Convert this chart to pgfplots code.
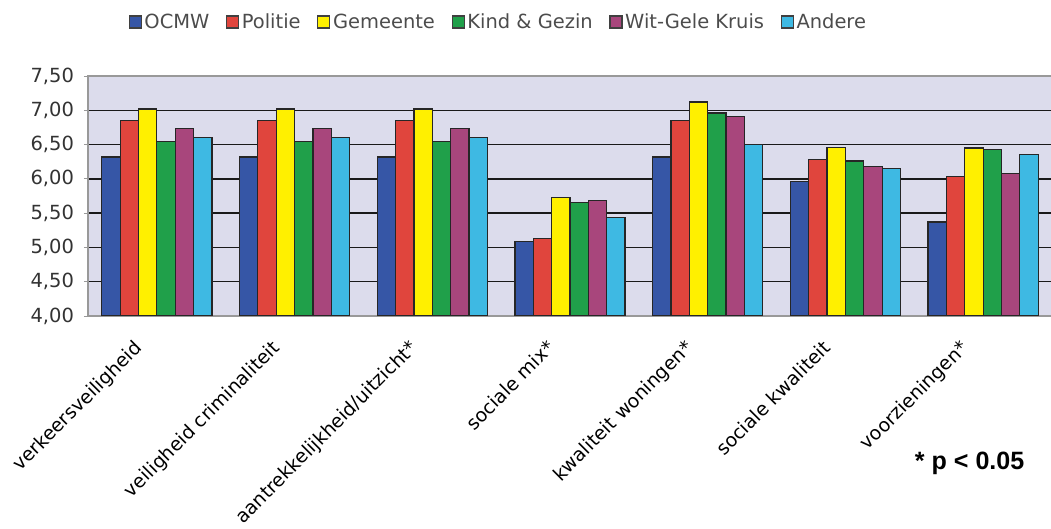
\documentclass[border=0pt]{standalone}
\usepackage{pgfplots}
\pgfplotsset{compat=1.18}
\usepackage{pgfplotstable}
\usepackage{fontspec}
\setmainfont{DejaVu Sans}
\newfontfamily\notefont{Liberation Sans}

\definecolor{cOCMW}{HTML}{3656A6}
\definecolor{cPolitie}{HTML}{E0453D}
\definecolor{cGemeente}{HTML}{FFF000}
\definecolor{cKind}{HTML}{20A04A}
\definecolor{cWit}{HTML}{A8467C}
\definecolor{cAndere}{HTML}{3EB9E3}
\definecolor{plotbg}{HTML}{DCDCEC}

% mean scores per domain (0..6 = domains)
\pgfplotstableread{
x OCMW Politie Gemeente Kind Wit Andere
0 6.32 6.85 7.02 6.54 6.74 6.60
1 6.32 6.85 7.02 6.54 6.74 6.60
2 6.32 6.85 7.02 6.54 6.74 6.60
3 5.09 5.13 5.73 5.65 5.69 5.44
4 6.32 6.85 7.12 6.96 6.91 6.50
5 5.96 6.28 6.46 6.26 6.18 6.15
6 5.37 6.03 6.45 6.43 6.08 6.35
}\scores

\begin{document}
\begin{tikzpicture}
\useasboundingbox (0,0) rectangle (788.25pt,396.75pt);
\begin{axis}[
  at={(66pt,159.75pt)}, anchor=south west,
  scale only axis,
  width=723pt, height=180pt,
  xmin=-0.5, xmax=6.5,
  ymin=4, ymax=7.5,
  axis background/.style={fill=plotbg},
  axis line style={draw=black!40, line width=0.9pt},
  ybar=0pt, bar width=0.1333,
  xtick={0,...,6},
  xticklabels={verkeersveiligheid, veiligheid criminaliteit, aantrekkelijkheid/uitzicht*, sociale mix*, kwaliteit woningen*, sociale kwaliteit, voorzieningen*},
  x tick label style={font=\fontsize{14.2pt}{16pt}\selectfont, inner sep=0pt, xshift=-18pt, yshift=-14pt, rotate=45, anchor=north east},
  major x tick style={draw=none},
  extra x ticks={0.5,1.5,...,5.5},
  extra x tick labels={},
  extra x tick style={tick style={draw=black!40, line width=0.6pt}, major tick length=4pt, tick align=outside, grid=none},
  ytick={4.5,5,...,7},
  extra y ticks={4,7.5},
  extra y tick style={grid=none},
  ymajorgrids,
  major grid style={draw=black!90, line width=1.1pt},
  y tick style={draw=black!40, line width=0.6pt},
  tick align=outside, major tick length=3pt,
  y tick label style={font=\fontsize{14.6pt}{16pt}\selectfont, text=black!80, xshift=-4pt},
  y tick label style={/pgf/number format/fixed, /pgf/number format/fixed zerofill, /pgf/number format/precision=2, /pgf/number format/use comma, /pgf/number format/assume math mode=true},
  legend columns=-1,
  legend style={draw=none, fill=none, at={(0.042,1.225)}, anchor=west, inner sep=0pt,
    font=\fontsize{14.6pt}{16pt}\selectfont, text=black!70,
    nodes={inner sep=2pt},
    /tikz/every even column/.append style={column sep=10.5pt}},
  legend image code/.code={\draw[#1, draw=black!75, line width=0.8pt] (0pt,-4.5pt) rectangle (9pt,4.5pt);},
  every axis plot/.append style={draw=black!85, line width=0.9pt},
]
\addplot[fill=cOCMW] table[x=x, y=OCMW] {\scores};
\addplot[fill=cPolitie] table[x=x, y=Politie] {\scores};
\addplot[fill=cGemeente] table[x=x, y=Gemeente] {\scores};
\addplot[fill=cKind] table[x=x, y=Kind] {\scores};
\addplot[fill=cWit] table[x=x, y=Wit] {\scores};
\addplot[fill=cAndere] table[x=x, y=Andere] {\scores};
\legend{OCMW, Politie, Gemeente, Kind \& Gezin, Wit-Gele Kruis, Andere}
\end{axis}
\node[anchor=west, inner sep=0pt, font=\notefont\bfseries\fontsize{18.8pt}{20pt}\selectfont] at (686pt,49.5pt) {* p < 0.05};
\end{tikzpicture}
\end{document}
